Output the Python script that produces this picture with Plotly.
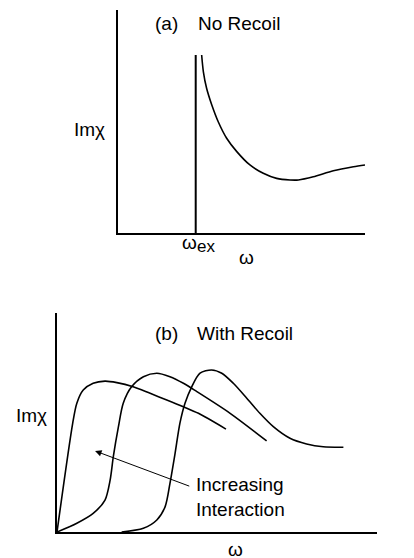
import plotly.graph_objects as go

W, H = 414, 558

# ---- Panel (a): No recoil ----
w_ex = 3.16
a_edge_y = [0, 7.98]
a_x = [3.40, 3.47, 3.60, 3.81, 4.07, 4.41, 4.82, 5.35, 5.89, 6.43, 6.97, 7.31, 7.91, 8.72, 9.53, 10.0]
a_y = [7.98, 7.23, 6.49, 5.74, 4.99, 4.25, 3.65, 3.05, 2.68, 2.45, 2.38, 2.38, 2.52, 2.79, 2.97, 3.05]

# ---- Panel (b): With recoil ----
b1_x = [0.0, 0.49, 0.62, 0.82, 1.13, 1.50, 1.87, 2.38, 2.91, 3.43, 3.95, 4.42, 5.28]
b1_y = [0.0, 4.96, 5.88, 6.48, 6.79, 6.89, 6.82, 6.63, 6.33, 6.03, 5.72, 5.42, 4.70]

b2_x = [0.0, 0.62, 1.13, 1.50, 1.66, 1.76, 1.92, 2.07, 2.33, 2.70, 3.12, 3.53, 3.95, 4.37, 5.41, 6.55]
b2_y = [0.0, 0.40, 0.85, 1.46, 2.37, 3.44, 4.81, 5.88, 6.63, 7.09, 7.25, 7.09, 6.79, 6.41, 5.42, 4.16]

b3_x = [2.02, 2.70, 3.12, 3.38, 3.53, 3.69, 3.84, 4.00, 4.21, 4.47, 4.83, 5.15, 5.51, 5.93,
        6.34, 6.76, 7.28, 7.80, 8.32, 8.95]
b3_y = [0.0, 0.17, 0.55, 1.16, 2.22, 3.59, 4.96, 5.88, 6.63, 7.25, 7.40, 7.25, 6.79, 6.11,
        5.42, 4.81, 4.28, 4.02, 3.89, 3.87]

arrow_tail = (4.18, 2.07)
arrow_head = (1.19, 3.70)

FONT = "Liberation Sans, Arial, sans-serif"
FS = 19
LINE = dict(color="black", width=1.6, shape="spline", smoothing=0.8)


def px(x):
    return x / W


def py(y):
    return 1 - y / H


fig = go.Figure()
fig.add_trace(go.Scatter(x=[w_ex, w_ex], y=a_edge_y, mode="lines",
                         line=dict(color="black", width=2), xaxis="x", yaxis="y"))
fig.add_trace(go.Scatter(x=a_x, y=a_y, mode="lines", line=LINE, xaxis="x", yaxis="y"))
for xs, ys in [(b1_x, b1_y), (b2_x, b2_y), (b3_x, b3_y)]:
    fig.add_trace(go.Scatter(x=xs, y=ys, mode="lines", line=LINE, xaxis="x2", yaxis="y2"))

ax_common = dict(showgrid=False, zeroline=False, showticklabels=False, ticks="",
                 showline=True, linecolor="black", linewidth=1.6, range=[0, 10], fixedrange=True)

fig.update_layout(
    width=W, height=H, margin=dict(l=0, r=0, t=0, b=0),
    paper_bgcolor="white", plot_bgcolor="white", showlegend=False,
    xaxis=dict(domain=[px(117.5), px(365)], anchor="y", **ax_common),
    yaxis=dict(domain=[py(233), py(10)], anchor="x", **ax_common),
    xaxis2=dict(domain=[px(57), px(377)], anchor="y2", **ax_common),
    yaxis2=dict(domain=[py(532), py(313)], anchor="x2", **ax_common),
    font=dict(family=FONT, size=FS, color="black"),
)

texts = [
    ("(a)", 166, 23, FS),
    ("No Recoil", 239, 23, FS),
    ("Imχ", 89, 129, FS),
    ("ω", 189.5, 242, FS),
    ("ex", 206, 246, 17),
    ("ω", 246, 257, FS),
    ("(b)", 166, 333, FS),
    ("With Recoil", 245, 333, FS),
    ("Imχ", 31, 415, FS),
    ("ω", 235, 549, FS),
]
for t, x, y, s in texts:
    fig.add_annotation(text=t, x=px(x), y=py(y), xref="paper", yref="paper",
                       xanchor="center", yanchor="middle", showarrow=False,
                       font=dict(family=FONT, size=s, color="black"))

fig.add_annotation(text="Increasing<br>Interaction", x=px(194), y=py(497), xref="paper", yref="paper",
                   xanchor="left", yanchor="middle", align="left", showarrow=False,
                   font=dict(family=FONT, size=FS, color="black"))

fig.add_annotation(x=arrow_head[0], y=arrow_head[1], ax=arrow_tail[0], ay=arrow_tail[1],
                   xref="x2", yref="y2", axref="x2", ayref="y2", text="", showarrow=True,
                   arrowhead=2, arrowsize=1.3, arrowwidth=1, arrowcolor="black")

fig.write_html("out.html", config={"displayModeBar": False},
               post_script="document.body.style.margin='0';document.body.style.overflow='hidden';")
